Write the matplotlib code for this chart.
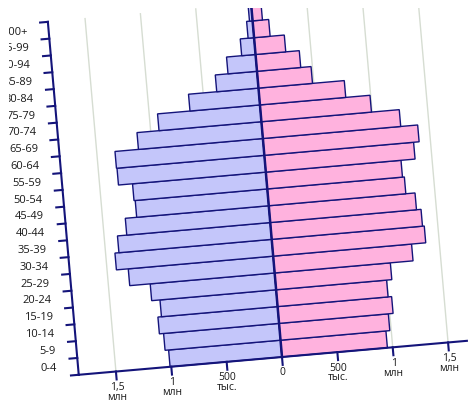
import matplotlib.pyplot as plt
from matplotlib.patches import Rectangle
from matplotlib.transforms import Affine2D

# age groups, bottom to top
ages = ["0-4", "5-9", "10-14", "15-19", "20-24", "25-29", "30-34", "35-39",
        "40-44", "45-49", "50-54", "55-59", "60-64", "65-69", "70-74",
        "75-79", "80-84", "85-89", "90-94", "95-99", "100+"]
# thousands of people
male = [1011, 1043, 1081, 1049, 1124, 1309, 1416, 1380, 1296, 1193, 1204,
        1331, 1336, 1124, 925, 632, 377, 262, 125, 54, 28]
female = [952, 987, 1030, 998, 1045, 1250, 1378, 1362, 1321, 1238, 1221,
          1348, 1398, 1245, 994, 775, 488, 395, 273, 145, 89]

tick_vals = [-1500, -1000, -500, 0, 500, 1000, 1500]
tick_labels = ["1,5\nмлн", "1\nмлн", "500\nтыс.", "0", "500\nтыс.", "1\nмлн", "1,5\nмлн"]

MALE_C = "#c4c6fa"
FEMALE_C = "#ffb2de"
NAVY = "#14147a"
GRID_C = "#d6ddd2"
TEXT_C = "#1a1a1a"

W, H = 476, 400
fig = plt.figure(figsize=(W / 100, H / 100), dpi=100)
ax = fig.add_axes([0, 0, 1, 1])
ax.set_xlim(0, W)
ax.set_ylim(0, H)
ax.axis("off")

# the whole chart is drawn tilted by ~5 degrees, in pixel space
PX_PER_K = 166.7 / 1500
ROW_H = 16.87
T = Affine2D().scale(PX_PER_K, ROW_H).rotate_deg(5).translate(282, H - 357)

n = len(ages)
x_left, x_right = -1836, 1670

# the source picture is cropped at the top strip
clip_top = Rectangle((0, 0), W, H - 8, transform=ax.transData, visible=False)
ax.add_patch(clip_top)

# grid
for v in tick_vals:
    if v == 0:
        continue
    ln, = ax.plot([v, v], [0, n], color=GRID_C, lw=1, transform=T, zorder=1)
    ln.set_clip_path(clip_top)

# bars
for k in range(n):
    for x0, w, c in [(-male[k], male[k], MALE_C), (0, female[k], FEMALE_C)]:
        r = Rectangle((x0, k), w, 1, facecolor=c, edgecolor=NAVY, lw=1, transform=T, zorder=3)
        ax.add_patch(r)
        r.set_clip_path(clip_top)

# center line
ln, = ax.plot([0, 0], [0, n], color=NAVY, lw=1.8, transform=T, zorder=4)
ln.set_clip_path(clip_top)

# axes
ax.plot([x_left, x_right], [0, 0], color=NAVY, lw=1.5, transform=T, zorder=5, clip_on=False)
ax.plot([x_left, x_left], [0, n], color=NAVY, lw=1.5, transform=T, zorder=5, clip_on=False)

# y ticks + labels
for k in range(n + 1):
    ax.plot([x_left - 70, x_left], [k, k], color=NAVY, lw=1.5, transform=T, zorder=5, clip_on=False)
for k, lab in enumerate(ages):
    ax.text(x_left - 188, k + 0.5, lab, transform=T, ha="right", va="center",
            fontsize=8, family="Open Sans", color=TEXT_C, zorder=6)

# left edge of the source picture is cropped, hiding the start of the top labels
ax.add_patch(Rectangle((0, 0), 8.5, H, facecolor="white", edgecolor="none", zorder=10))

# x ticks + labels
for v, lab in zip(tick_vals, tick_labels):
    ax.plot([v, v], [0, -0.47], color=NAVY, lw=1.5, transform=T, zorder=5, clip_on=False)
    ax.text(v, -0.62, lab, transform=T, ha="center", va="top", fontsize=7.5,
            family="Open Sans", color=TEXT_C, linespacing=0.85, clip_on=False)

fig.savefig("out.png", dpi=100)
